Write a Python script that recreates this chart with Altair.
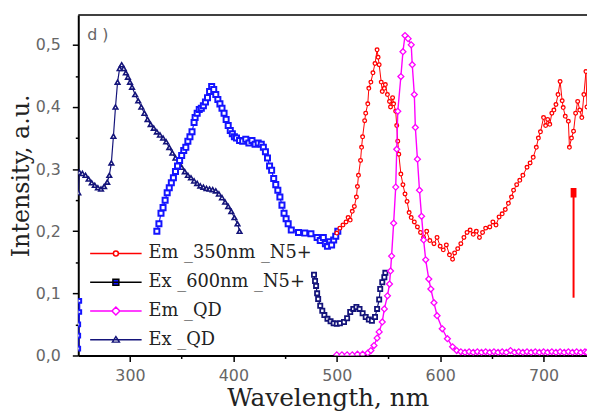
import altair as alt
import pandas as pd

# ---------------- data ----------------
em350_wl = [500, 503, 506, 509, 511, 513, 515, 517, 519, 520, 521, 523, 524, 525, 527, 528, 530, 531, 533, 535,
            537, 539, 540, 541, 543, 544, 546, 547, 549, 551, 552, 554, 555, 557, 558, 559, 560, 562, 564, 566,
            568, 570, 572, 575, 578, 581, 584, 587, 590, 594, 597, 600, 603, 606, 609, 612, 614, 617, 620, 623,
            626, 629, 632, 635, 638, 641, 644, 648, 651, 654, 657, 660, 663, 666, 669, 671, 674, 677, 680, 684,
            687, 690, 693, 695, 697, 700, 702, 704, 706, 708, 710, 712, 714, 716, 718, 719, 721, 724, 725, 727,
            729, 731, 733, 735, 737, 739, 741, 742]
em350_val = [0.197, 0.205, 0.210, 0.215, 0.222, 0.218, 0.232, 0.240, 0.255, 0.272, 0.290, 0.314, 0.335, 0.352, 0.378,
             0.390, 0.405, 0.430, 0.440, 0.455, 0.470, 0.492, 0.480, 0.468, 0.440, 0.425, 0.430, 0.436, 0.420, 0.409,
             0.400, 0.415, 0.405, 0.393, 0.370, 0.345, 0.324, 0.292, 0.275, 0.260, 0.248, 0.230, 0.222, 0.215, 0.207,
             0.198, 0.190, 0.200, 0.185, 0.180, 0.190, 0.176, 0.170, 0.178, 0.162, 0.155, 0.165, 0.172, 0.180, 0.190,
             0.198, 0.202, 0.195, 0.200, 0.190, 0.198, 0.205, 0.207, 0.215, 0.210, 0.223, 0.228, 0.235, 0.245, 0.255,
             0.266, 0.275, 0.282, 0.290, 0.303, 0.310, 0.319, 0.335, 0.350, 0.360, 0.383, 0.370, 0.380, 0.372, 0.390,
             0.395, 0.404, 0.420, 0.441, 0.410, 0.399, 0.385, 0.377, 0.335, 0.350, 0.361, 0.390, 0.409, 0.395, 0.383,
             0.420, 0.457, 0.400]

arrow_wl = [729]
arrow_lo = [0.093]
arrow_hi = [0.262]

ex600_wl = [326, 328, 330, 332, 334, 336, 338, 340, 342, 344, 346, 348, 350, 352, 354, 356, 358, 360, 362, 363,
            365, 367, 369, 371, 373, 375, 377, 379, 381, 383, 385, 387, 389, 391, 393, 395, 397, 399, 401, 403,
            406, 409, 412, 415, 418, 421, 424, 427, 429, 431, 433, 435, 437, 439, 441, 443, 445, 447, 449, 451,
            453, 456, 463, 469, 475, 481, 484, 487, 489, 491, 493, 495, 497, 499, 501]
ex600_val = [0.200, 0.212, 0.229, 0.238, 0.250, 0.262, 0.270, 0.278, 0.286, 0.296, 0.305, 0.314, 0.322, 0.330, 0.335,
             0.345, 0.352, 0.360, 0.375, 0.383, 0.390, 0.396, 0.398, 0.402, 0.408, 0.415, 0.425, 0.433, 0.428, 0.420,
             0.412, 0.405, 0.398, 0.390, 0.380, 0.370, 0.362, 0.357, 0.352, 0.350, 0.346, 0.345, 0.348, 0.342, 0.346,
             0.340, 0.342, 0.340, 0.335, 0.328, 0.318, 0.305, 0.298, 0.285, 0.275, 0.266, 0.255, 0.242, 0.229, 0.220,
             0.212, 0.202, 0.198, 0.197, 0.196, 0.190, 0.185, 0.190, 0.180, 0.176, 0.183, 0.178, 0.186, 0.192, 0.200]
ex600_stub_wl = [250, 250, 250, 251, 251]
ex600_stub_val = [0.011, 0.032, 0.050, 0.070, 0.088]

emqd_wl = [500, 505, 510, 515, 520, 525, 530, 533, 536, 539, 541, 544, 546, 549, 551, 552, 553, 555, 557, 558,
           559, 562, 564, 566, 569, 572, 573, 575, 576, 578, 580, 582, 584, 586, 589, 591, 594, 597, 602, 607,
           612, 616, 620, 624, 628, 632, 636, 640, 644, 648, 652, 656, 660, 664, 668, 672, 676, 680, 684, 688,
           692, 696, 700, 704, 708, 712, 716, 720, 724, 728, 732, 736, 740, 742]
emqd_val = [0.001, 0.001, 0.001, 0.001, 0.002, 0.002, 0.004, 0.008, 0.016, 0.028, 0.038, 0.054, 0.075, 0.096, 0.115,
            0.136, 0.160, 0.213, 0.271, 0.332, 0.393, 0.449, 0.489, 0.515, 0.510, 0.500, 0.468, 0.420, 0.367, 0.316,
            0.266, 0.224, 0.186, 0.154, 0.123, 0.107, 0.085, 0.064, 0.043, 0.027, 0.014, 0.008, 0.006, 0.005, 0.006,
            0.005, 0.006, 0.005, 0.006, 0.005, 0.006, 0.005, 0.006, 0.005, 0.008, 0.005, 0.006, 0.005, 0.006, 0.005,
            0.006, 0.005, 0.006, 0.005, 0.006, 0.005, 0.006, 0.005, 0.006, 0.005, 0.006, 0.005, 0.006, 0.005]

exqd_wl = [250, 251, 254, 257, 260, 263, 266, 269, 272, 275, 278, 280, 282, 284, 286, 288, 290, 292, 294, 296,
           298, 300, 302, 305, 308, 311, 314, 317, 320, 323, 326, 329, 332, 335, 338, 341, 344, 347, 350, 353,
           356, 359, 362, 365, 368, 371, 374, 377, 380, 383, 386, 389, 392, 395, 398, 401, 404, 406]
exqd_val = [0.262, 0.295, 0.293, 0.290, 0.284, 0.278, 0.274, 0.270, 0.268, 0.272, 0.279, 0.290, 0.310, 0.353, 0.400,
            0.440, 0.462, 0.468, 0.462, 0.455, 0.448, 0.440, 0.432, 0.420, 0.410, 0.400, 0.390, 0.380, 0.372, 0.366,
            0.360, 0.355, 0.350, 0.344, 0.335, 0.326, 0.318, 0.310, 0.303, 0.296, 0.290, 0.286, 0.281, 0.277, 0.273,
            0.271, 0.269, 0.268, 0.267, 0.265, 0.260, 0.254, 0.247, 0.240, 0.232, 0.222, 0.212, 0.200]
exqd2_wl = [478, 479, 480, 481, 482, 484, 486, 488, 491, 494, 497, 500, 503, 507, 510, 513, 516, 519, 522, 525,
            528, 531, 534, 537, 539, 541, 542, 544, 546, 547]
exqd2_val = [0.130, 0.120, 0.112, 0.100, 0.091, 0.080, 0.072, 0.065, 0.059, 0.055, 0.052, 0.051, 0.052, 0.054, 0.060,
             0.070, 0.075, 0.078, 0.075, 0.068, 0.062, 0.058, 0.056, 0.062, 0.075, 0.090, 0.107, 0.118, 0.126, 0.133]

legend_labels = ["Em _350nm _N5+", "Ex _600nm _N5+", "Em _QD", "Ex _QD"]
panel_label = ["d )"]
x_ticks = [300, 350, 400, 450, 500, 550, 600, 650, 700]
y_ticks = [0.0, 0.05, 0.1, 0.15, 0.2, 0.25, 0.3, 0.35, 0.4, 0.45, 0.5]

# ---------------- styling ----------------
W, H = 514, 344
X_DOM = [250, 742]
Y_DOM = [0, 0.548]
RED, BLUE, MAG, NAVY = "#ff0000", "#1414ff", "#ff00ff", "#14147a"
SERIF = "DejaVu Serif"

xs = alt.Scale(domain=X_DOM, nice=False, zero=False)
ys = alt.Scale(domain=Y_DOM, nice=False, zero=False)

x_axis = alt.Axis(
    values=x_ticks,
    labelExpr="datum.value % 100 == 0 ? datum.label : ''",
    tickSize={"condition": {"test": "datum.value % 100 == 0", "value": 6}, "value": 3},
    tickColor="black", tickWidth=1.5, domainColor="black", domainWidth=2,
    labelFont="DejaVu Sans", labelFontSize=16, labelColor="#666", labelPadding=6,
    title="Wavelength, nm", titleFont=SERIF, titleFontSize=25, titleFontWeight="normal",
    titleColor="#222", titleX=252, titleY=43, titleBaseline="middle", titleAlign="center",
    grid=False,
)
y_axis = alt.Axis(
    values=y_ticks,
    labelExpr="abs(datum.value*10 - round(datum.value*10)) < 0.001 ? replace(format(datum.value, '.1f'), '.', ',') : ''",
    tickSize={"condition": {"test": "abs(datum.value*10 - round(datum.value*10)) < 0.001", "value": 6}, "value": 3},
    tickColor="black", tickWidth=1.5, domainColor="black", domainWidth=2,
    labelFont="DejaVu Sans", labelFontSize=16, labelColor="#666", labelPadding=12,
    title="Intensity, a.u.", titleFont=SERIF, titleFontSize=24, titleFontWeight="normal",
    titleColor="#222", titleX=-57, titleY=162, titleBaseline="middle", titleAlign="center", titleAngle=-90,
    grid=False,
)


def X(field="wl"):
    return alt.X(f"{field}:Q", scale=xs, axis=x_axis)


def Y(field="v"):
    return alt.Y(f"{field}:Q", scale=ys, axis=y_axis)


def series(wl, val, color, shape, size, sw, lw, fill="white"):
    d = pd.DataFrame({"wl": wl, "v": val})
    line = alt.Chart(d).mark_line(color=color, strokeWidth=lw, clip=True).encode(x=X(), y=Y(), order="idx:Q") \
        .transform_window(idx="row_number()")
    pts = alt.Chart(d).mark_point(shape=shape, size=size, stroke=color, strokeWidth=sw, fill=fill,
                                  filled=False, opacity=1, fillOpacity=1, clip=True).encode(x=X(), y=Y())
    return [line, pts]


layers = []
layers += series(exqd_wl, exqd_val, NAVY, "triangle-up", 22, 1.6, 1.2)
layers += series(exqd2_wl, exqd2_val, NAVY, "square", 18, 1.8, 1.2)
layers += series(ex600_wl, ex600_val, BLUE, "square", 26, 2.0, 1.2)
layers += series(ex600_stub_wl, ex600_stub_val, BLUE, "square", 14, 2.0, 2.0)
layers += series(em350_wl, em350_val, RED, "circle", 14, 1.3, 1.0)
layers += series(emqd_wl, emqd_val, MAG, "diamond", 36, 1.3, 1.4)

# red arrow / bar
arr = pd.DataFrame({"wl": arrow_wl, "lo": arrow_lo, "hi": arrow_hi})
layers.append(alt.Chart(arr).mark_rule(color=RED, strokeWidth=2).encode(x=X(), y=Y("lo"), y2="hi:Q"))
layers.append(alt.Chart(arr).mark_point(shape="M-0.5,-1H0.5V1H-0.5Z", size=60, fill=RED, stroke=RED,
                                        filled=True, opacity=1).encode(x=X(), y=Y("hi")))

# top frame line
layers.append(alt.Chart(pd.DataFrame({"a": [0]})).mark_rule(color="black", strokeWidth=1.5).encode(
    x=alt.value(0), x2=alt.value(W), y=alt.value(0)))

# panel label
layers.append(alt.Chart(pd.DataFrame({"t": panel_label})).mark_text(
    font="DejaVu Sans", fontSize=16, color="#666", align="left", baseline="middle").encode(
    text="t:N", x=alt.value(9), y=alt.value(20)))

# legend layer (points outside domain, clipped)
leg_paths = [
    "M-9.4,0H-4.7M-3.7,0H1M-4.7,0A0.5,0.5,0,1,0,-3.7,0A0.5,0.5,0,1,0,-4.7,0Z",
    "M-9.4,0H1M-4.8,-0.6H-3.6V0.6H-4.8Z",
    "M-9.4,0H-5M-3.4,0H1M-5,0L-4.2,-0.8L-3.4,0L-4.2,0.8Z",
    "M-9.4,0H1M-4.9,0.5L-4.2,-0.6L-3.5,0.5Z",
]
leg_strokes = [RED, "black", MAG, NAVY]
leg_fills = ["white", BLUE, "white", "white"]
leg = alt.Legend(orient="none", legendX=50, legendY=232, title=None, symbolSize=100, symbolStrokeWidth=1.5,
                 labelFont=SERIF, labelFontSize=18, labelColor="#222", labelOffset=3, labelLimit=400,
                 rowPadding=11, padding=0, symbolOpacity=1)
legdf = pd.DataFrame({"series": legend_labels, "wl": [0, 0, 0, 0], "v": [-1, -1, -1, -1]})
layers.append(alt.Chart(legdf).mark_point(clip=True, opacity=1, size=100).encode(
    x=X(), y=Y(),
    stroke=alt.Stroke("series:N", scale=alt.Scale(domain=legend_labels, range=leg_strokes), legend=leg),
    fill=alt.Fill("series:N", scale=alt.Scale(domain=legend_labels, range=leg_fills), legend=leg),
    shape=alt.Shape("series:N", scale=alt.Scale(domain=legend_labels, range=leg_paths), legend=leg),
))

chart = alt.layer(*layers).properties(
    width=W, height=H,
    autosize=alt.AutoSizeParams(type="none"),
    padding={"left": 71, "top": 5, "right": 0, "bottom": 55},
).configure_view(stroke=None)

chart.save("out.html", embed_options={"renderer": "svg", "actions": False})
